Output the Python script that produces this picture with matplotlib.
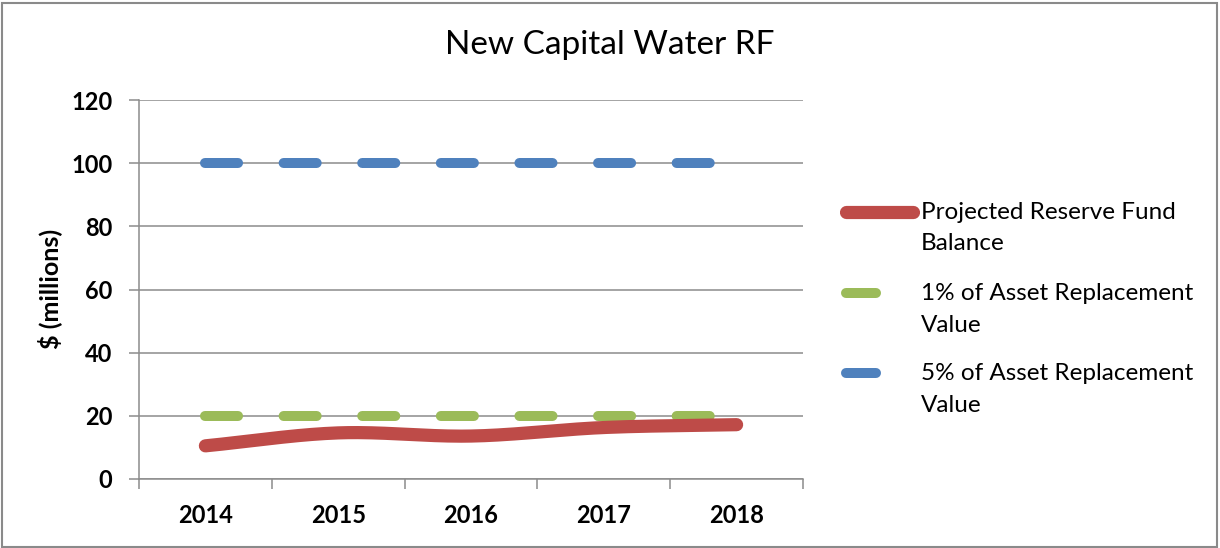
import matplotlib
matplotlib.use("Agg")
import matplotlib.pyplot as plt
from matplotlib.lines import Line2D
from matplotlib.patches import Rectangle
import numpy as np

years = ["2014", "2015", "2016", "2017", "2018"]
reserve_balance = [10.5, 14.6, 13.6, 16.3, 17.2]
one_pct_value = [20, 20, 20, 20, 20]
five_pct_value = [100, 100, 100, 100, 100]
y_ticks = [0, 20, 40, 60, 80, 100, 120]

RED = "#BE4B48"
GREEN = "#9BBB59"
BLUE = "#4F81BD"
GRID = "#8C8C8C"

plt.rcParams["lines.scale_dashes"] = False

W, H = 1220, 548
fig = plt.figure(figsize=(W / 100, H / 100), dpi=100)
fig.patch.set_facecolor("white")

# outer chart frame
fig.patches.append(Rectangle((2 / W, 1 / H), 1215 / W, 544 / H, transform=fig.transFigure,
                             fill=False, edgecolor="#8A8A8A", linewidth=1.5))

ax = fig.add_axes([139 / W, 1 - 479 / H, 664 / W, 379 / H])
x = np.arange(len(years))


def smooth(xs, ys, n=40):
    # Catmull-Rom spline through the points, like a smoothed line chart
    xs = np.asarray(xs, float)
    ys = np.asarray(ys, float)
    px = np.concatenate([[2 * xs[0] - xs[1]], xs, [2 * xs[-1] - xs[-2]]])
    py = np.concatenate([[2 * ys[0] - ys[1]], ys, [2 * ys[-1] - ys[-2]]])
    outx, outy = [], []
    for i in range(1, len(px) - 2):
        t = np.linspace(0, 1, n, endpoint=(i == len(px) - 3))
        for arr, out in ((px, outx), (py, outy)):
            p0, p1, p2, p3 = arr[i - 1], arr[i], arr[i + 1], arr[i + 2]
            out.extend(0.5 * ((2 * p1) + (-p0 + p2) * t + (2 * p0 - 5 * p1 + 4 * p2 - p3) * t ** 2
                              + (-p0 + 3 * p1 - 3 * p2 + p3) * t ** 3))
    return np.array(outx), np.array(outy)


sx, sy = smooth(x, reserve_balance)
ax.plot(sx, sy, color=RED, linewidth=9.5, solid_capstyle="round", zorder=4)

dash = (0, (23.8, 32.8))
ax.plot(x, one_pct_value, color=GREEN, linewidth=7.2, linestyle=dash,
        dash_capstyle="round", zorder=3)
ax.plot(x, five_pct_value, color=BLUE, linewidth=7.2, linestyle=dash,
        dash_capstyle="round", zorder=3)

ax.set_xlim(-0.5, len(years) - 0.5)
ax.set_ylim(0, 120)
ax.set_yticks(y_ticks)
ax.set_yticklabels([str(v) for v in y_ticks], family="Lato", fontsize=17, fontweight="bold")
ax.yaxis.grid(True, color=GRID, linewidth=1.1)
ax.set_axisbelow(True)

ax.set_xticks(x)
ax.set_xticklabels(years, family="Lato", fontsize=17, fontweight="bold")
ax.set_xticks(np.arange(-0.5, len(years)), minor=True)
ax.tick_params(axis="x", which="major", length=0, pad=18)
ax.tick_params(axis="x", which="minor", length=7, width=1.1, color=GRID, direction="out")
ax.tick_params(axis="y", length=7, width=1.1, color=GRID, pad=12)

for s in ("top", "right"):
    ax.spines[s].set_visible(False)
for s in ("left", "bottom"):
    ax.spines[s].set_color(GRID)
    ax.spines[s].set_linewidth(1.1)

fig.text(50 / W, 1 - 289 / H, r"\$ (millions)", rotation=90, ha="center", va="center",
         family="Lato", fontsize=18, fontweight="bold")

fig.text(610 / W, 1 - 45 / H, "New Capital Water RF", ha="center", va="center",
         family="Lato", fontsize=24)

# legend
legend_items = [
    (RED, 9.5, "solid", 917, 212, ["Projected Reserve Fund", "Balance"]),
    (GREEN, 7.2, "dashed", 880, 293, ["1% of Asset Replacement", "Value"]),
    (BLUE, 7.2, "dashed", 880, 373, ["5% of Asset Replacement", "Value"]),
]
for color, lw, kind, x_end, yc, lines in legend_items:
    fig.lines.append(Line2D([846 / W, (x_end - 4) / W], [1 - yc / H, 1 - yc / H],
                            transform=fig.transFigure, color=color, linewidth=lw,
                            solid_capstyle="round"))
    for k, txt in enumerate(lines):
        fig.text(921 / W, 1 - (yc + k * 32) / H, txt, ha="left", va="center",
                 family="Lato", fontsize=17.5)

fig.savefig("out.png", dpi=100, facecolor="white")
